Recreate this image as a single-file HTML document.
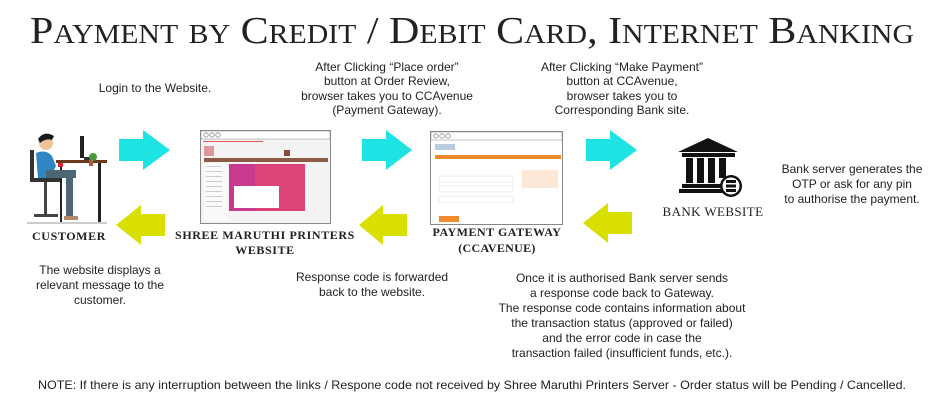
<!DOCTYPE html>
<html><head><meta charset="utf-8"><style>
html,body{margin:0;padding:0;background:#fff;}
svg{display:block;}
.t{font-family:"Liberation Sans",Arial,sans-serif;font-size:12px;fill:#222;text-anchor:middle;}
.s{font-family:"Liberation Serif",serif;fill:#222;text-anchor:middle;}
</style></head><body>
<svg width="946" height="403" viewBox="0 0 946 403" xmlns="http://www.w3.org/2000/svg">
<text class="s" x="472" y="43" font-size="38" textLength="884" lengthAdjust="spacingAndGlyphs" style="font-variant:small-caps">Payment by Credit / Debit Card, Internet Banking</text>

<text class="t" x="155" y="92">Login to the Website.</text>
<text class="t" x="387" y="71">After Clicking “Place order”</text>
<text class="t" x="387" y="85">button at Order Review,</text>
<text class="t" x="387" y="100">browser takes you to CCAvenue</text>
<text class="t" x="387" y="114">(Payment Gateway).</text>
<text class="t" x="622" y="71">After Clicking “Make Payment”</text>
<text class="t" x="622" y="85">button at CCAvenue,</text>
<text class="t" x="622" y="100">browser takes you to</text>
<text class="t" x="622" y="114">Corresponding Bank site.</text>
<text class="t" x="852" y="173">Bank server generates the</text>
<text class="t" x="852" y="188">OTP or ask for any pin</text>
<text class="t" x="852" y="203">to authorise the payment.</text>

<text class="t" x="100" y="274">The website displays a</text>
<text class="t" x="100" y="289">relevant message to the</text>
<text class="t" x="100" y="304">customer.</text>
<text class="t" x="372" y="281">Response code is forwarded</text>
<text class="t" x="372" y="296">back to the website.</text>
<text class="t" x="622" y="282">Once it is authorised Bank server sends</text>
<text class="t" x="622" y="297">a response code back to Gateway.</text>
<text class="t" x="622" y="312">The response code contains information about</text>
<text class="t" x="622" y="327">the transaction status (approved or failed)</text>
<text class="t" x="622" y="342">and the error code in case the</text>
<text class="t" x="622" y="357">transaction failed (insufficient funds, etc.).</text>
<text class="t" x="472" y="389" textLength="868" lengthAdjust="spacingAndGlyphs">NOTE: If there is any interruption between the links / Respone code not received by Shree Maruthi Printers Server - Order status will be Pending / Cancelled.</text>

<g fill="#1ee3e3">
<polygon points="119,139 143,139 143,130 170,150 143,170 143,161 119,161"/>
<polygon points="362,139 386,139 386,130 412,150 386,170 386,161 362,161"/>
<polygon points="586,139 610,139 610,130 637,150 610,170 610,161 586,161"/>
</g>
<g fill="#d9e000">
<polygon points="165,214 141,214 141,205 116,225 141,245 141,236 165,236"/>
<polygon points="407,214 383,214 383,205 359,225 383,245 383,236 407,236"/>
<polygon points="632,212 608,212 608,203 583,223 608,243 608,234 632,234"/>
</g>

<g>
<rect x="56" y="160" width="51" height="3" fill="#6b3a1c"/>
<rect x="98" y="163" width="3" height="60" fill="#222"/>
<rect x="60" y="163" width="2" height="60" fill="#222"/>
<rect x="80" y="136" width="4" height="22" fill="#222"/>
<rect x="84" y="157" width="12" height="3" fill="#333"/>
<rect x="89" y="160" width="4" height="6" fill="#b5563a"/>
<circle cx="93" cy="157" r="4" fill="#4a9a3c"/>
<rect x="58" y="163" width="5" height="4" fill="#d23"/>
<circle cx="46" cy="143" r="7" fill="#f0c29a"/>
<path d="M38 139 Q44 130 54 136 L52 140 Q46 138 40 143Z" fill="#1a1a1a"/>
<path d="M36 153 Q46 149 52 156 L56 166 L50 178 L38 178Z" fill="#2f86c4"/>
<rect x="46" y="170" width="30" height="8" fill="#4d6675"/>
<rect x="66" y="170" width="7" height="47" fill="#4d6675"/>
<rect x="64" y="216" width="14" height="4" fill="#b08a6a"/>
<rect x="30" y="150" width="4" height="32" fill="#333"/>
<rect x="32" y="178" width="28" height="4" fill="#333"/>
<rect x="44" y="182" width="3" height="32" fill="#444"/>
<rect x="34" y="214" width="24" height="3" fill="#444"/>
<rect x="27" y="222" width="80" height="2" fill="#ccc"/>
</g>
<text class="s" x="69" y="240" font-size="12" font-weight="bold" letter-spacing="0.6">CUSTOMER</text>

<g>
<rect x="200.5" y="130.5" width="130" height="93" fill="#f3f3f3" stroke="#888"/>
<rect x="201" y="131" width="129" height="8" fill="#fff" stroke="#888" stroke-width="0.5"/>
<circle cx="206" cy="135" r="2.2" fill="none" stroke="#666" stroke-width="0.6"/>
<circle cx="212" cy="135" r="2.2" fill="none" stroke="#666" stroke-width="0.6"/>
<circle cx="218" cy="135" r="2.2" fill="none" stroke="#666" stroke-width="0.6"/>
<rect x="203" y="141" width="60" height="1" fill="#e55"/>
<rect x="204" y="146" width="10" height="10" fill="#d99"/>
<rect x="204" y="158" width="124" height="4" fill="#8a5a44"/>
<rect x="204" y="163" width="24" height="58" fill="#fafafa"/>
<g fill="#ccc"><rect x="206" y="166" width="16" height="1"/><rect x="206" y="171" width="16" height="1"/><rect x="206" y="176" width="16" height="1"/><rect x="206" y="181" width="16" height="1"/><rect x="206" y="186" width="16" height="1"/><rect x="206" y="191" width="16" height="1"/><rect x="206" y="196" width="16" height="1"/><rect x="206" y="201" width="16" height="1"/><rect x="206" y="206" width="16" height="1"/></g>
<rect x="229" y="164" width="76" height="47" fill="#c83a8e"/>
<rect x="255" y="164" width="50" height="47" fill="#e84a6a" opacity="0.6"/>
<rect x="234" y="186" width="45" height="22" fill="#fff"/>
<rect x="284" y="150" width="6" height="6" fill="#8a4b3a"/>
</g>
<text class="s" x="265" y="239" font-size="12" font-weight="bold" letter-spacing="0.6">SHREE MARUTHI PRINTERS</text>
<text class="s" x="265" y="254" font-size="12" font-weight="bold" letter-spacing="0.6">WEBSITE</text>

<g>
<rect x="430.5" y="131.5" width="132" height="93" fill="#fff" stroke="#888"/>
<rect x="431" y="132" width="131" height="8" fill="#fff" stroke="#888" stroke-width="0.5"/>
<circle cx="436" cy="136" r="2.2" fill="none" stroke="#666" stroke-width="0.6"/>
<circle cx="442" cy="136" r="2.2" fill="none" stroke="#666" stroke-width="0.6"/>
<circle cx="448" cy="136" r="2.2" fill="none" stroke="#666" stroke-width="0.6"/>
<rect x="435" y="144" width="20" height="6" fill="#bcd"/>
<rect x="435" y="155" width="126" height="4" fill="#f28a2c"/>
<rect x="522" y="170" width="36" height="18" fill="#fde8d8"/>
<rect x="439" y="176" width="74" height="6" fill="none" stroke="#ddd" stroke-width="0.5"/>
<rect x="439" y="186" width="74" height="6" fill="none" stroke="#ddd" stroke-width="0.5"/>
<rect x="439" y="196" width="74" height="6" fill="none" stroke="#ddd" stroke-width="0.5"/>
<rect x="439" y="216" width="20" height="6" fill="#f28a2c"/>
</g>
<text class="s" x="497" y="236" font-size="12" font-weight="bold" letter-spacing="0.5">PAYMENT GATEWAY</text>
<text class="s" x="497" y="252" font-size="12" font-weight="bold" letter-spacing="0.3">(CCAVENUE)</text>

<g fill="#111">
<polygon points="678,152 708,138 738,152"/>
<rect x="682" y="153" width="53" height="4"/>
<rect x="686" y="158" width="7" height="25"/>
<rect x="697" y="158" width="7" height="25"/>
<rect x="708" y="158" width="7" height="25"/>
<rect x="719" y="158" width="7" height="20"/>
<rect x="682" y="184" width="42" height="4"/>
<rect x="679" y="189" width="46" height="4"/>
<circle cx="731" cy="186" r="11"/>
<circle cx="731" cy="186" r="8.5" fill="#fff"/>
<rect x="726" y="180" width="10" height="3"/>
<rect x="726" y="184.5" width="10" height="3"/>
<rect x="726" y="189" width="10" height="3"/>
</g>
<text class="s" x="713" y="216" font-size="13" letter-spacing="0.4">BANK WEBSITE</text>
</svg>
</body></html>
